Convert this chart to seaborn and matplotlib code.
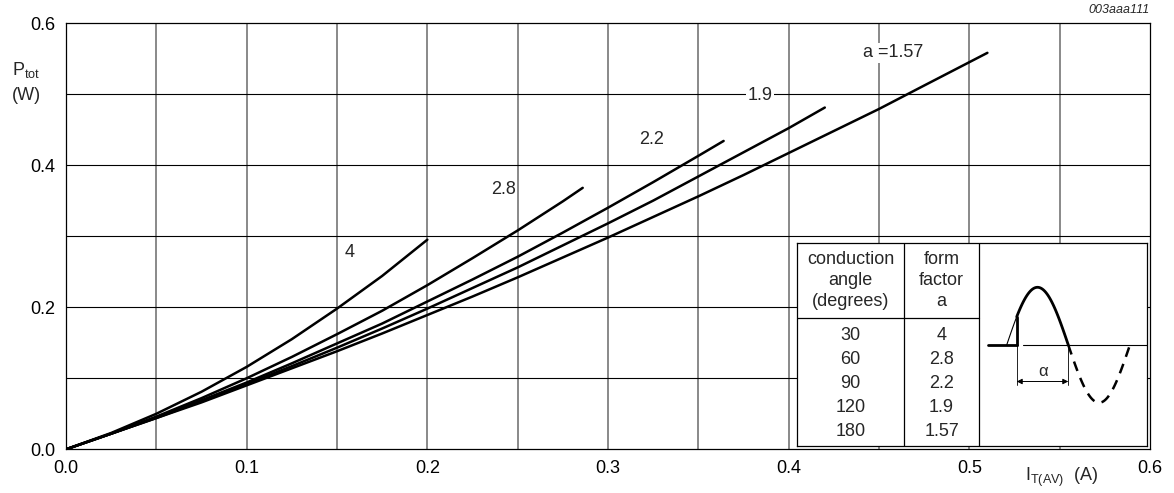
import numpy as np
import pandas as pd
import seaborn as sns
import matplotlib
matplotlib.use("Agg")
import matplotlib.pyplot as plt

# curves: average on-state current (A) vs total power (W)
form_factors = ["4", "2.8", "2.2", "1.9", "1.57"]
i_a4 = [0.0, 0.025, 0.05, 0.075, 0.10, 0.125, 0.15, 0.175, 0.20]
p_a4 = [0.0, 0.023, 0.050, 0.081, 0.116, 0.155, 0.198, 0.244, 0.295]
i_a28 = [0.0, 0.025, 0.05, 0.075, 0.10, 0.125, 0.15, 0.175, 0.20, 0.225, 0.25,
         0.275, 0.286]
p_a28 = [0.0, 0.022, 0.046, 0.072, 0.100, 0.130, 0.162, 0.195, 0.231, 0.269, 0.308,
         0.349, 0.368]
i_a22 = [0.0, 0.025, 0.05, 0.075, 0.10, 0.125, 0.15, 0.175, 0.20, 0.225, 0.25,
         0.275, 0.30, 0.325, 0.35, 0.364]
p_a22 = [0.0, 0.022, 0.045, 0.069, 0.094, 0.121, 0.149, 0.177, 0.208, 0.239, 0.271,
         0.305, 0.340, 0.376, 0.413, 0.434]
i_a19 = [0.0, 0.025, 0.05, 0.075, 0.10, 0.125, 0.15, 0.175, 0.20, 0.225, 0.25,
         0.275, 0.30, 0.325, 0.35, 0.375, 0.40, 0.42]
p_a19 = [0.0, 0.022, 0.044, 0.068, 0.092, 0.117, 0.143, 0.170, 0.198, 0.227, 0.256,
         0.287, 0.318, 0.350, 0.384, 0.418, 0.452, 0.481]
i_a157 = [0.0, 0.025, 0.05, 0.075, 0.10, 0.125, 0.15, 0.175, 0.20, 0.225, 0.25,
          0.275, 0.30, 0.325, 0.35, 0.375, 0.40, 0.425, 0.45, 0.475, 0.51]
p_a157 = [0.0, 0.022, 0.044, 0.066, 0.090, 0.114, 0.138, 0.163, 0.189, 0.215, 0.242,
          0.270, 0.298, 0.327, 0.356, 0.386, 0.417, 0.448, 0.479, 0.512, 0.558]

# curve labels: text, x, y
curve_labels = ["4", "2.8", "2.2", "1.9", "a =1.57"]
label_x = [0.157, 0.242, 0.324, 0.384, 0.458]
label_y = [0.277, 0.365, 0.436, 0.498, 0.558]

# inset table
angles = ["30", "60", "90", "120", "180"]
factors = ["4", "2.8", "2.2", "1.9", "1.57"]

x_ticks = [0.0, 0.1, 0.2, 0.3, 0.4, 0.5, 0.6]
y_ticks = [0.0, 0.2, 0.4, 0.6]

sns.set_style("white")
plt.rcParams["font.family"] = ["Liberation Sans", "DejaVu Sans"]
plt.rcParams["mathtext.fontset"] = "custom"
plt.rcParams["mathtext.rm"] = "Liberation Sans"
plt.rcParams["mathtext.it"] = "Liberation Sans:italic"

W, H = 1174, 493
fig = plt.figure(figsize=(W / 100, H / 100), dpi=100)
ax = fig.add_axes([66 / W, 1 - 449.3 / H, 1084 / W, 426.3 / H])

frames = []
for a, xs, ys in zip(form_factors,
                     [i_a4, i_a28, i_a22, i_a19, i_a157],
                     [p_a4, p_a28, p_a22, p_a19, p_a157]):
    frames.append(pd.DataFrame({"I": xs, "P": ys, "a": a}))
df = pd.concat(frames, ignore_index=True)

sns.lineplot(data=df, x="I", y="P", hue="a", palette=["black"] * 5,
             estimator=None, sort=False, legend=False, linewidth=1.8,
             ax=ax, zorder=3)

ax.set_xlim(0, 0.6)
ax.set_ylim(0, 0.6)
for xv in np.arange(0.05, 0.6, 0.05):
    ax.axvline(xv, color="#6a6a6a", linewidth=1.1, zorder=1)
for yv in np.arange(0.1, 0.6, 0.1):
    ax.axhline(yv, color="black", linewidth=0.8, zorder=1)

ax.set_xticks(x_ticks)
ax.set_xticklabels([f"{v:.1f}" for v in x_ticks])
ax.set_yticks(y_ticks)
ax.set_yticklabels([f"{v:.1f}" for v in y_ticks])
ax.tick_params(axis="both", length=0, labelsize=13, colors="black")
ax.tick_params(axis="x", pad=8)
ax.tick_params(axis="y", pad=8)
ax.set_xlabel("")
ax.set_ylabel("")
for sp in ax.spines.values():
    sp.set_color("black")
    sp.set_linewidth(0.9)

for t, xv, yv in zip(curve_labels, label_x, label_y):
    ax.text(xv, yv, t, fontsize=13, ha="center", va="center", zorder=4,
            bbox=dict(facecolor="white", edgecolor="none", pad=1.0))

fig.text(12 / W, 1 - 70 / H, r"P$_{\mathrm{tot}}$", fontsize=13, ha="left", va="center")
fig.text(26.5 / W, 1 - 95.5 / H, "(W)", fontsize=13, ha="center", va="center")
fig.text(1062 / W, 1 - 477 / H, r"I$_{\mathrm{T(AV)}}$  (A)", fontsize=13,
         ha="center", va="center")
fig.text(1150 / W, 1 - 10 / H, "003aaa111", fontsize=9, style="italic",
         ha="right", va="center")

# inset table with the waveform sketch, in pixel-like units
ins = fig.add_axes([797 / W, 1 - 446 / H, 350 / W, 203 / H])
ins.set_facecolor("white")
ins.set_xlim(0, 350)
ins.set_ylim(203, 0)
ins.set_xticks([])
ins.set_yticks([])
for sp in ins.spines.values():
    sp.set_color("black")
    sp.set_linewidth(0.9)
ins.plot([107, 107], [0, 203], color="black", lw=0.9)
ins.plot([182, 182], [0, 203], color="black", lw=0.9)
ins.plot([0, 182], [75, 75], color="black", lw=0.9)

ins.text(53.5, 37.5, "conduction\nangle\n(degrees)", fontsize=13, ha="center",
         va="center", linespacing=1.32)
ins.text(144.5, 37.5, "form\nfactor\na", fontsize=13, ha="center",
         va="center", linespacing=1.32)
row_y = [93, 117, 140.5, 164.5, 188]
for ang, ff, ry in zip(angles, factors, row_y):
    ins.text(53.5, ry, ang, fontsize=13, ha="center", va="center")
    ins.text(144.5, ry, ff, fontsize=13, ha="center", va="center")

# waveform sketch
base, amp, x0, half = 102, 57.7, 209.7, 61.6
cut = 219.7
xs = np.linspace(x0, cut, 20)
ins.plot(xs, base - amp * np.sin(np.pi * (xs - x0) / half), color="black", lw=0.8)
xs = np.linspace(cut, x0 + half, 80)
ins.plot(xs, base - amp * np.sin(np.pi * (xs - x0) / half), color="black", lw=2.0)
xs = np.linspace(x0 + half, x0 + 2 * half, 80)
ins.plot(xs, base - amp * np.sin(np.pi * (xs - x0) / half), color="black", lw=1.8,
         linestyle=(0, (4, 3)))
y_cut = base - amp * np.sin(np.pi * (cut - x0) / half)
ins.plot([cut, cut], [base, y_cut], color="black", lw=2.0)
ins.plot([191.3, cut], [base, base], color="black", lw=2.0)
ins.plot([225.7, 350], [base, base], color="black", lw=0.8)
ins.plot([cut, cut], [base, 142], color="black", lw=0.6)
ins.plot([x0 + half, x0 + half], [base, 142], color="black", lw=0.6)
ins.annotate("", xy=(cut, 138.5), xytext=(x0 + half, 138.5),
             arrowprops=dict(arrowstyle="<|-|>", color="black", lw=0.7,
                             mutation_scale=8, shrinkA=0, shrinkB=0))
ins.text(246, 129, "α", fontsize=12, ha="center", va="center")

fig.savefig("out.png", dpi=100)
